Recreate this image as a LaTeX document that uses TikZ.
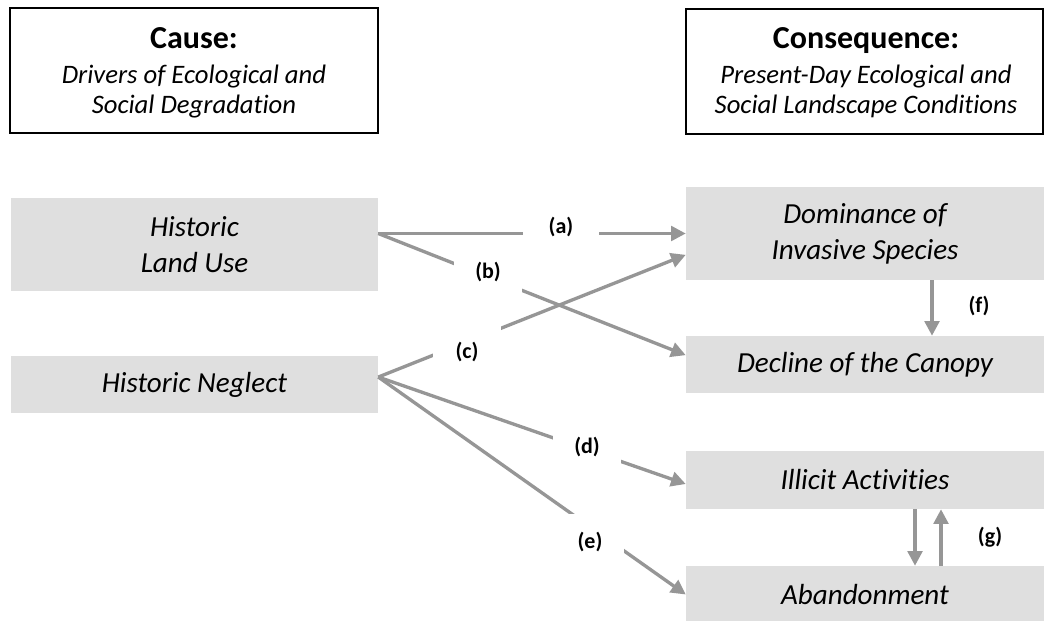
\documentclass[tikz,border=0pt]{standalone}
\usepackage{fontspec}
\setmainfont{Carlito}[Ligatures=NoCommon]
\usetikzlibrary{arrows.meta}
\definecolor{boxgray}{RGB}{223,223,223}
\definecolor{arrowgray}{RGB}{150,150,150}
\begin{document}
\begin{tikzpicture}[x=0.75pt,y=-0.75pt,
  titlebox/.style={draw=black,line width=1.5pt,fill=white,inner sep=0pt},
  graybox/.style={fill=boxgray,inner sep=0pt,align=center,font=\fontsize{21.8pt}{27pt}\selectfont\itshape},
  titletext/.style={anchor=base,font=\fontsize{24pt}{28pt}\selectfont\bfseries,inner sep=0pt},
  subtext/.style={anchor=base,font=\fontsize{20pt}{24pt}\selectfont\itshape,inner sep=0pt},
  link/.style={draw=arrowgray,line width=2.5pt,-{Triangle[length=11pt,width=11pt]}},
  lab/.style={fill=white,font=\fontsize{16.5pt}{19pt}\selectfont\bfseries,minimum width=51pt,minimum height=42pt,inner sep=0pt}
]
\useasboundingbox (0,0) rectangle (1044,620);

% title boxes
\node[titlebox,minimum width=276pt,minimum height=93.75pt] (cause) at (194,70.5) {};
\node[titletext] (causet) at (194,48.5) {Cause:};
\node[subtext] (causes1) at (194,84) {Drivers of Ecological and};
\node[subtext] (causes2) at (194,114) {Social Degradation};

\node[titlebox,minimum width=267.75pt,minimum height=93.75pt] (cons) at (864.5,71.5) {};
\node[titletext] (const) at (866,48.5) {Consequence:};
\node[subtext] (conss1) at (866,84) {Present-Day Ecological and};
\node[subtext] (conss2) at (866,114) {Social Landscape Conditions};

% cause boxes
\node[graybox,minimum width=275.25pt,minimum height=69.75pt] (hlu) at (194.5,244.5) {Historic\\Land Use};
\node[graybox,minimum width=275.25pt,minimum height=42.75pt] (hn) at (194.5,384.5) {Historic Neglect};

% consequence boxes
\node[graybox,minimum width=268.5pt,minimum height=69.75pt] (dom) at (865,233.5) {Dominance of\\Invasive Species};
\node[graybox,minimum width=268.5pt,minimum height=42.75pt] (dec) at (865,364.5) {Decline of the Canopy};
\node[graybox,minimum width=268.5pt,minimum height=43.5pt] (ill) at (865,480) {Illicit Activities};
\node[graybox,minimum width=268.5pt,minimum height=42.75pt] (aba) at (865,594.5) {Abandonment};

% connectors
\draw[link] (hlu.east |- dom.west) -- (dom.west);
\draw[link] (hlu.east |- dom.west) -- ([yshift=7pt]dec.west);
\draw[link] ([yshift=5.6pt]hn.east) -- ([yshift=-16pt]dom.west);
\draw[link] ([yshift=5.6pt]hn.east) -- ([yshift=-3pt]ill.west);
\draw[link] ([yshift=5.6pt]hn.east) -- (aba.west);
\draw[link] ([xshift=50.25pt]dom.south) -- ([xshift=50.25pt]dec.north);
\draw[link] ([xshift=37.5pt]ill.south) -- ([xshift=37.5pt]aba.north);
\draw[link] ([xshift=57pt]aba.north) -- ([xshift=57pt]ill.south);

% labels
\node[lab,minimum width=57pt] (la) at (561,227) {(a)};
\node[lab] (lb) at (488,272) {(b)};
\node[lab] (lc) at (467,352) {(c)};
\node[lab] (ld) at (587,447) {(d)};
\node[lab] (le) at (590,542) {(e)};
\node[lab,minimum width=0pt,minimum height=0pt,fill=none] (lf) at (979,306) {(f)};
\node[lab,minimum width=0pt,minimum height=0pt,fill=none] (lg) at (990,537) {(g)};
\end{tikzpicture}
\end{document}
